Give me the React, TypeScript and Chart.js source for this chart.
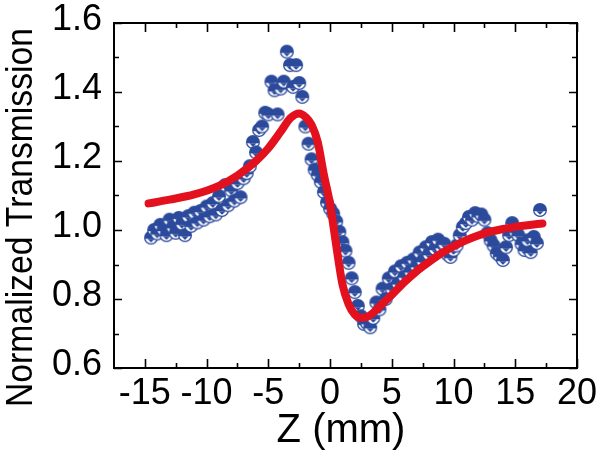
import { useEffect, useRef } from 'react';
import { Chart, registerables } from 'chart.js';

Chart.register(...registerables);

// Measured data (Z in mm, normalized transmission)
const Z_DATA = [
  -14.5, -14.25, -14.0, -13.75, -13.5, -13.25, -13.0, -12.75, -12.5, -12.25,
  -12.0, -11.75, -11.5, -11.25, -11.0, -10.75, -10.5, -10.25, -10.0, -9.75,
  -9.5, -9.25, -9.0, -8.75, -8.5, -8.25, -8.0, -7.75, -7.5, -7.25,
  -7.0, -6.75, -6.5, -6.25, -6.0, -5.75, -5.5, -5.25, -5.0, -4.75,
  -4.5, -4.25, -4.0, -3.75, -3.5, -3.25, -3.0, -2.75, -2.5, -2.25,
  -2.0, -1.75, -1.5, -1.25, -1.0, -0.75, -0.5, -0.25, 0.0, 0.25,
  0.5, 0.75, 1.0, 1.25, 1.5, 1.75, 2.0, 2.25, 2.5, 2.75,
  3.0, 3.25, 3.5, 3.75, 4.0, 4.25, 4.5, 4.75, 5.0, 5.25,
  5.5, 5.75, 6.0, 6.25, 6.5, 6.75, 7.0, 7.25, 7.5, 7.75,
  8.0, 8.25, 8.5, 8.75, 9.0, 9.25, 9.5, 9.75, 10.0, 10.25,
  10.5, 10.75, 11.0, 11.25, 11.5, 11.75, 12.0, 12.25, 12.5, 12.75,
  13.0, 13.25, 13.5, 13.75, 14.0, 14.25, 14.5, 14.75, 15.0, 15.25,
  15.5, 15.75, 16.0, 16.25, 16.5, 16.75, 17.0,
];
const T_DATA = [
  0.978, 1.000, 0.990, 1.015, 1.000, 0.985, 1.030, 1.008, 0.992, 1.035,
  1.018, 0.985, 1.040, 1.012, 1.050, 1.022, 1.055, 1.030, 1.068, 1.040,
  1.078, 1.045, 1.098, 1.058, 1.130, 1.072, 1.115, 1.085, 1.136, 1.095,
  1.150, 1.165, 1.185, 1.255, 1.225, 1.290, 1.300, 1.340, 1.335, 1.430,
  1.405, 1.335, 1.410, 1.430, 1.517, 1.478, 1.415, 1.478, 1.426, 1.386,
  1.300, 1.250, 1.205, 1.175, 1.160, 1.140, 1.110, 1.080, 1.062, 1.048,
  1.025, 0.995, 0.965, 0.940, 0.905, 0.860, 0.820, 0.780, 0.750, 0.728,
  0.730, 0.718, 0.745, 0.790, 0.770, 0.830, 0.800, 0.860, 0.830, 0.880,
  0.845, 0.895, 0.865, 0.905, 0.880, 0.915, 0.895, 0.935, 0.910, 0.950,
  0.930, 0.965, 0.945, 0.972, 0.950, 0.960, 0.930, 0.922, 0.942, 0.955,
  0.985, 1.009, 1.020, 1.038, 1.030, 1.049, 1.040, 1.045, 1.030, 0.991,
  0.970, 0.955, 0.933, 0.925, 0.913, 0.950, 0.985, 1.020, 0.995, 0.985,
  0.960, 0.942, 0.970, 0.936, 0.980, 0.962, 1.058,
];

// Fitted curve
const FIT_Z = [
  -14.7, -13, -11, -9, -7.5, -6, -5, -4, -3.2, -2.5, -2, -1.5, -1, -0.5, 0,
  0.5, 1, 1.5, 2, 2.5, 3, 3.5, 4, 5, 6, 7, 8, 9, 10, 11, 12, 13, 14, 15, 16, 17.2,
];
const FIT_T = [
  1.077, 1.088, 1.103, 1.128, 1.158, 1.200, 1.237, 1.285, 1.325, 1.338, 1.328,
  1.305, 1.255, 1.160, 1.075, 0.955, 0.843, 0.785, 0.755, 0.746, 0.748, 0.760,
  0.778, 0.812, 0.848, 0.880, 0.907, 0.932, 0.953, 0.970, 0.984, 0.995, 1.003,
  1.009, 1.014, 1.019,
];

const X_TICKS = [-15, -10, -5, 0, 5, 10, 15, 20];
const X_MINOR = [-12.5, -7.5, -2.5, 2.5, 7.5, 12.5, 17.5];
const Y_TICKS = [0.6, 0.8, 1.0, 1.2, 1.4, 1.6];
const Y_MINOR = [0.7, 0.9, 1.1, 1.3, 1.5];
const X_TITLE = 'Z (mm)';
const Y_TITLE = 'Normalized Transmission';

const BLUE = '#2c4a9c';
const RED = '#e3101e';
const FONT = '"Liberation Sans", Arial, sans-serif';

function makeMarker(): HTMLCanvasElement {
  const c = document.createElement('canvas');
  c.width = 16;
  c.height = 16;
  const g = c.getContext('2d') as CanvasRenderingContext2D;
  const cx = 8, cy = 8, r = 7;
  g.fillStyle = BLUE;
  g.beginPath();
  g.arc(cx, cy, r, 0, Math.PI * 2);
  g.fill();
  g.save();
  g.beginPath();
  g.arc(cx, cy, r - 1.2, 0, Math.PI * 2);
  g.clip();
  g.fillStyle = '#ffffff';
  g.fillRect(0, cy + 1.2, 16, 16);
  g.fillStyle = BLUE;
  g.beginPath();
  g.moveTo(cx - 3.6, cy + 1.2);
  g.lineTo(cx + 3.6, cy + 1.2);
  g.lineTo(cx, cy + 4.8);
  g.closePath();
  g.fill();
  g.restore();
  return c;
}

const framePlugin = {
  id: 'frameTicksTitles',
  afterDraw(chart: any) {
    const ctx = chart.ctx as CanvasRenderingContext2D;
    const { left, right, top, bottom } = chart.chartArea;
    const xs = chart.scales.x;
    const ys = chart.scales.y;
    ctx.save();
    ctx.strokeStyle = '#000';
    ctx.lineWidth = 1.6;
    ctx.beginPath();
    const tick = (vals: number[], len: number) => {
      vals.forEach((v) => {
        const px = Math.round(xs.getPixelForValue(v)) + 0.5;
        ctx.moveTo(px, bottom);
        ctx.lineTo(px, bottom - len);
        ctx.moveTo(px, top);
        ctx.lineTo(px, top + len);
      });
    };
    const ytick = (vals: number[], len: number) => {
      vals.forEach((v) => {
        const py = Math.round(ys.getPixelForValue(v)) + 0.5;
        ctx.moveTo(left, py);
        ctx.lineTo(left + len, py);
        ctx.moveTo(right, py);
        ctx.lineTo(right - len, py);
      });
    };
    tick(X_TICKS, 9);
    tick(X_MINOR, 5);
    ytick(Y_TICKS, 8);
    ytick(Y_MINOR, 5);
    ctx.stroke();
    ctx.lineWidth = 2;
    ctx.strokeRect(left, top, right - left, bottom - top);

    ctx.fillStyle = '#000';
    ctx.font = `40px ${FONT}`;
    ctx.textAlign = 'center';
    ctx.textBaseline = 'alphabetic';
    ctx.fillText(X_TITLE, 341, 442);

    ctx.translate(32, 217.5);
    ctx.rotate(-Math.PI / 2);
    ctx.font = `37px ${FONT}`;
    ctx.fillText(Y_TITLE, 0, 0, 379);
    ctx.restore();
  },
};

export default function App() {
  const ref = useRef<HTMLCanvasElement | null>(null);

  useEffect(() => {
    if (!ref.current) return;
    const marker = makeMarker();
    const points = Z_DATA.map((z, i) => ({ x: z, y: T_DATA[i] }));
    const fit = FIT_Z.map((z, i) => ({ x: z, y: FIT_T[i] }));
    const chart = new Chart(ref.current, {
      type: 'scatter',
      data: {
        datasets: [
          {
            label: 'fit',
            data: fit,
            showLine: true,
            borderColor: RED,
            borderWidth: 8,
            pointRadius: 0,
            cubicInterpolationMode: 'monotone',
            borderCapStyle: 'round',
            order: 0,
          } as any,
          {
            label: 'data',
            data: points,
            pointStyle: marker,
            pointRadius: 7,
            showLine: false,
            order: 1,
          } as any,
        ],
      },
      options: {
        responsive: false,
        animation: false,
        devicePixelRatio: 1,
        layout: { padding: { top: 23, right: 27, left: 0, bottom: 0 } },
        plugins: { legend: { display: false }, tooltip: { enabled: false } },
        scales: {
          x: {
            type: 'linear',
            min: -17.5,
            max: 20,
            afterBuildTicks: (s: any) => {
              s.ticks = X_TICKS.map((v) => ({ value: v }));
            },
            afterFit: (s: any) => {
              s.height = 103;
              s.paddingLeft = 0;
              s.paddingRight = 0;
              s.paddingTop = 0;
              s.paddingBottom = 0;
            },
            grid: { display: false, drawTicks: false },
            border: { display: false },
            ticks: {
              font: { family: FONT, size: 36 },
              color: '#000',
              padding: 4,
              maxRotation: 0,
              autoSkip: false,
              callback: (v: any) => String(v),
            },
          },
          y: {
            type: 'linear',
            min: 0.6,
            max: 1.6,
            afterBuildTicks: (s: any) => {
              s.ticks = Y_TICKS.map((v) => ({ value: v }));
            },
            afterFit: (s: any) => {
              s.width = 114;
              s.paddingLeft = 0;
              s.paddingRight = 0;
              s.paddingTop = 0;
              s.paddingBottom = 0;
            },
            grid: { display: false, drawTicks: false },
            border: { display: false },
            ticks: {
              font: { family: FONT, size: 36 },
              color: '#000',
              padding: 12,
              labelOffset: -3,
              autoSkip: false,
              callback: (v: any) => Number(v).toFixed(1),
            },
          },
        },
      },
      plugins: [framePlugin],
    } as any);
    return () => chart.destroy();
  }, []);

  return (
    <div style={{ position: 'fixed', left: 0, top: 0, width: 604, height: 471, background: '#fff' }}>
      <canvas ref={ref} width={604} height={471} style={{ width: 604, height: 471 }} />
    </div>
  );
}
